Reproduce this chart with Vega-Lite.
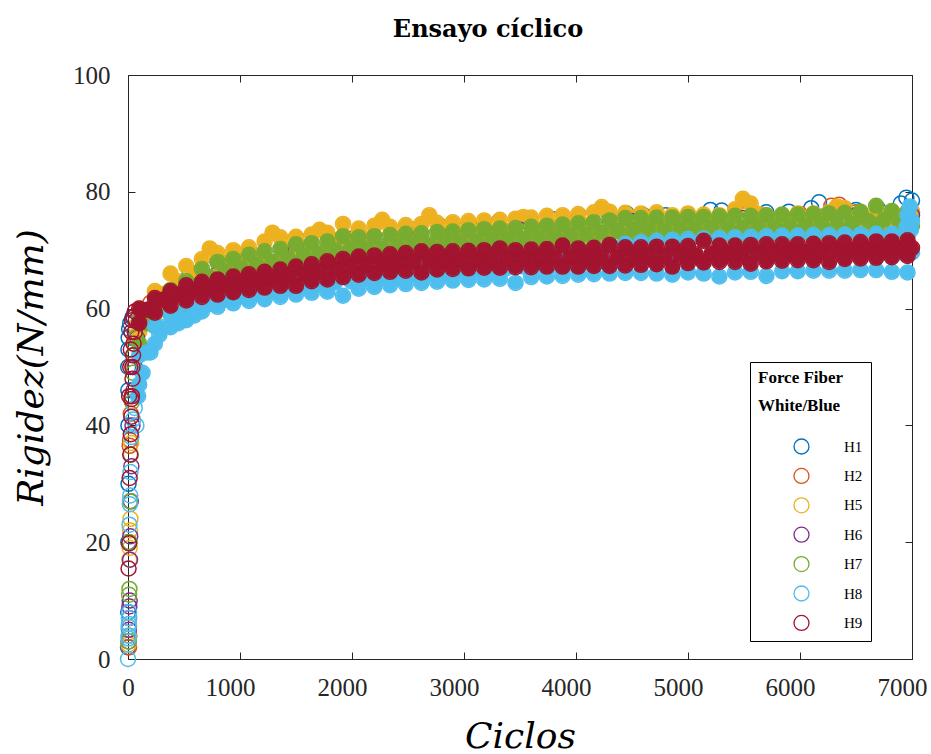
{
"$schema":"https://vega.github.io/schema/vega-lite/v6.json",
"width":784,"height":584,
"autosize":{"type":"none"},
"padding":{"left":128,"top":75,"right":19,"bottom":95},
"background":"white",
"title":{"text":"Ensayo cíclico","font":"DejaVu Serif","fontSize":24,"fontWeight":"bold","color":"#000","anchor":"middle","dx":-32,"offset":2,"baseline":"alphabetic"},
"datasets":{"pts":[
{"s":"H1","x":0,"y":2},{"s":"H1","x":2,"y":8},{"s":"H1","x":3,"y":20},{"s":"H1","x":5,"y":30},{"s":"H1","x":4,"y":40},{"s":"H1","x":3,"y":46},{"s":"H1","x":2,"y":50},{"s":"H1","x":4,"y":53},{"s":"H1","x":6,"y":55},{"s":"H1","x":10,"y":56.5},{"s":"H1","x":20,"y":57.5},{"s":"H1","x":40,"y":58.5},
{"s":"H1","x":300,"y":62},{"s":"H1","x":550,"y":66},{"s":"H1","x":800,"y":68},{"s":"H1","x":1050,"y":69.5},{"s":"H1","x":1300,"y":70.5},{"s":"H1","x":1550,"y":71.5},{"s":"H1","x":1800,"y":72},{"s":"H1","x":2050,"y":72.5},{"s":"H1","x":2300,"y":73},{"s":"H1","x":2550,"y":73.5},{"s":"H1","x":2800,"y":74},{"s":"H1","x":3050,"y":74.3},{"s":"H1","x":3300,"y":74.7},{"s":"H1","x":3550,"y":75},{"s":"H1","x":3800,"y":75.3},{"s":"H1","x":4050,"y":75.6},{"s":"H1","x":4300,"y":75.8},{"s":"H1","x":4450,"y":76.3},{"s":"H1","x":4600,"y":76},{"s":"H1","x":4800,"y":76},{"s":"H1","x":5000,"y":76.1},{"s":"H1","x":5200,"y":76.9},{"s":"H1","x":5300,"y":76.8},{"s":"H1","x":5500,"y":76.3},{"s":"H1","x":5700,"y":76.5},{"s":"H1","x":5900,"y":76.6},{"s":"H1","x":6100,"y":77.2},{"s":"H1","x":6170,"y":78.2},{"s":"H1","x":6300,"y":76.8},{"s":"H1","x":6500,"y":76.9},{"s":"H1","x":6700,"y":77},{"s":"H1","x":6900,"y":78},{"s":"H1","x":6950,"y":79},{"s":"H1","x":7000,"y":78.5},
{"s":"H2","x":10,"y":2},{"s":"H2","x":12,"y":4},{"s":"H2","x":15,"y":36.5},{"s":"H2","x":18,"y":37.5},{"s":"H2","x":25,"y":42},{"s":"H2","x":40,"y":50},{"s":"H2","x":60,"y":55},
{"s":"H2","x":200,"y":61},{"s":"H2","x":600,"y":66},{"s":"H2","x":1000,"y":69},{"s":"H2","x":1500,"y":71},{"s":"H2","x":2000,"y":72},{"s":"H2","x":2500,"y":73},{"s":"H2","x":3000,"y":73.5},{"s":"H2","x":3500,"y":74},{"s":"H2","x":4000,"y":75},{"s":"H2","x":4500,"y":75.5},{"s":"H2","x":5000,"y":75.8},{"s":"H2","x":5500,"y":76},{"s":"H2","x":6000,"y":76.2},{"s":"H2","x":6280,"y":77.6},{"s":"H2","x":6350,"y":77.8},{"s":"H2","x":6500,"y":76.5},{"s":"H2","x":7000,"y":76.5},
{"s":"H5","x":5,"y":2.5},{"s":"H5","x":8,"y":4},{"s":"H5","x":10,"y":5.5},{"s":"H5","x":12,"y":17},{"s":"H5","x":15,"y":19},{"s":"H5","x":18,"y":22},{"s":"H5","x":22,"y":24},{"s":"H5","x":28,"y":37},{"s":"H5","x":35,"y":45},{"s":"H5","x":45,"y":50},{"s":"H5","x":55,"y":54},{"s":"H5","x":70,"y":57},
{"s":"H5","x":100,"y":60},{"s":"H5","x":240,"y":63},{"s":"H5","x":380,"y":66},{"s":"H5","x":520,"y":67.3},{"s":"H5","x":660,"y":68.5},{"s":"H5","x":800,"y":69.5},{"s":"H5","x":940,"y":70},{"s":"H5","x":1080,"y":70.5},{"s":"H5","x":1220,"y":71.5},{"s":"H5","x":1360,"y":72.2},{"s":"H5","x":1500,"y":72.3},{"s":"H5","x":1640,"y":72.7},{"s":"H5","x":1780,"y":73},{"s":"H5","x":1920,"y":74.5},{"s":"H5","x":2060,"y":73.7},{"s":"H5","x":2200,"y":74.2},{"s":"H5","x":2340,"y":74},{"s":"H5","x":2480,"y":74.3},{"s":"H5","x":2620,"y":74.5},{"s":"H5","x":2760,"y":74.7},{"s":"H5","x":2900,"y":74.8},{"s":"H5","x":3040,"y":75},{"s":"H5","x":3180,"y":75.1},{"s":"H5","x":3320,"y":75.2},{"s":"H5","x":3460,"y":75.4},{"s":"H5","x":3600,"y":75.6},{"s":"H5","x":3740,"y":75.9},{"s":"H5","x":3880,"y":76},{"s":"H5","x":4020,"y":76.2},{"s":"H5","x":4160,"y":76.5},{"s":"H5","x":4300,"y":76.6},{"s":"H5","x":4440,"y":76.4},{"s":"H5","x":4580,"y":76.3},{"s":"H5","x":4720,"y":76.5},{"s":"H5","x":4860,"y":76},{"s":"H5","x":5000,"y":76.3},{"s":"H5","x":5140,"y":76.1},{"s":"H5","x":5280,"y":76},{"s":"H5","x":5420,"y":77},{"s":"H5","x":5560,"y":78},{"s":"H5","x":5700,"y":76},{"s":"H5","x":5840,"y":76},{"s":"H5","x":5980,"y":76.3},{"s":"H5","x":6120,"y":76.3},{"s":"H5","x":6260,"y":76.5},{"s":"H5","x":6400,"y":77.2},{"s":"H5","x":6540,"y":76.5},{"s":"H5","x":6680,"y":76.5},{"s":"H5","x":6820,"y":76.6},{"s":"H5","x":6960,"y":76.5},
{"s":"H5","x":170,"y":59.5},{"s":"H5","x":310,"y":62.5},{"s":"H5","x":450,"y":64.7},{"s":"H5","x":590,"y":66},{"s":"H5","x":730,"y":70.3},{"s":"H5","x":870,"y":67.8},{"s":"H5","x":1010,"y":68.2},{"s":"H5","x":1150,"y":69},{"s":"H5","x":1290,"y":73},{"s":"H5","x":1430,"y":70.2},{"s":"H5","x":1570,"y":70.5},{"s":"H5","x":1710,"y":73.5},{"s":"H5","x":1850,"y":71.2},{"s":"H5","x":1990,"y":71.8},{"s":"H5","x":2130,"y":72},{"s":"H5","x":2270,"y":75.2},{"s":"H5","x":2410,"y":72.2},{"s":"H5","x":2550,"y":72.4},{"s":"H5","x":2690,"y":76},{"s":"H5","x":2830,"y":72.8},{"s":"H5","x":2970,"y":72.9},{"s":"H5","x":3110,"y":73.1},{"s":"H5","x":3250,"y":73.2},{"s":"H5","x":3390,"y":73.3},{"s":"H5","x":3530,"y":75.7},{"s":"H5","x":3670,"y":73.7},{"s":"H5","x":3810,"y":74},{"s":"H5","x":3950,"y":74.1},{"s":"H5","x":4090,"y":74.3},{"s":"H5","x":4230,"y":77.4},{"s":"H5","x":4370,"y":74.5},{"s":"H5","x":4510,"y":74.3},{"s":"H5","x":4650,"y":74.4},{"s":"H5","x":4790,"y":74.2},{"s":"H5","x":4930,"y":74.1},{"s":"H5","x":5070,"y":74.2},{"s":"H5","x":5210,"y":74},{"s":"H5","x":5350,"y":74.5},{"s":"H5","x":5490,"y":78.8},{"s":"H5","x":5630,"y":76.2},{"s":"H5","x":5770,"y":74},{"s":"H5","x":5910,"y":74.1},{"s":"H5","x":6050,"y":74.3},{"s":"H5","x":6190,"y":74.4},{"s":"H5","x":6330,"y":77.5},{"s":"H5","x":6470,"y":74.8},{"s":"H5","x":6610,"y":74.5},{"s":"H5","x":6750,"y":74.6},{"s":"H5","x":6890,"y":74.7},{"s":"H5","x":7000,"y":76.6},
{"s":"H5","x":100,"y":56},{"s":"H5","x":240,"y":59},{"s":"H5","x":380,"y":62},{"s":"H5","x":520,"y":63.3},{"s":"H5","x":660,"y":64.5},{"s":"H5","x":800,"y":65.5},{"s":"H5","x":940,"y":66},{"s":"H5","x":1080,"y":66.5},{"s":"H5","x":1220,"y":67.5},{"s":"H5","x":1360,"y":68.2},{"s":"H5","x":1500,"y":68.3},{"s":"H5","x":1640,"y":68.7},{"s":"H5","x":1780,"y":69},{"s":"H5","x":1920,"y":70.5},{"s":"H5","x":2060,"y":69.7},{"s":"H5","x":2200,"y":70.2},{"s":"H5","x":2340,"y":70},{"s":"H5","x":2480,"y":70.3},{"s":"H5","x":2620,"y":70.5},{"s":"H5","x":2760,"y":70.7},{"s":"H5","x":2900,"y":70.8},{"s":"H5","x":3040,"y":71},{"s":"H5","x":3180,"y":71.1},{"s":"H5","x":3320,"y":71.2},{"s":"H5","x":3460,"y":71.4},{"s":"H5","x":3600,"y":71.6},{"s":"H5","x":3740,"y":71.9},{"s":"H5","x":3880,"y":72},{"s":"H5","x":4020,"y":72.2},{"s":"H5","x":4160,"y":72.5},{"s":"H5","x":4300,"y":72.6},{"s":"H5","x":4440,"y":72.4},{"s":"H5","x":4580,"y":72.3},{"s":"H5","x":4720,"y":72.5},{"s":"H5","x":4860,"y":72},{"s":"H5","x":5000,"y":72.3},{"s":"H5","x":5140,"y":72.1},{"s":"H5","x":5280,"y":72},{"s":"H5","x":5420,"y":73},{"s":"H5","x":5560,"y":74},{"s":"H5","x":5700,"y":72},{"s":"H5","x":5840,"y":72},{"s":"H5","x":5980,"y":72.3},{"s":"H5","x":6120,"y":72.3},{"s":"H5","x":6260,"y":72.5},{"s":"H5","x":6400,"y":73.2},{"s":"H5","x":6540,"y":72.5},{"s":"H5","x":6680,"y":72.5},{"s":"H5","x":6820,"y":72.6},{"s":"H5","x":6960,"y":72.5},
{"s":"H6","x":5,"y":3},{"s":"H6","x":8,"y":5},{"s":"H6","x":10,"y":7},{"s":"H6","x":12,"y":9},{"s":"H6","x":15,"y":10},{"s":"H6","x":18,"y":17},{"s":"H6","x":20,"y":21},{"s":"H6","x":25,"y":27},{"s":"H6","x":30,"y":33},{"s":"H6","x":40,"y":40},{"s":"H6","x":50,"y":46},{"s":"H6","x":60,"y":50},{"s":"H6","x":80,"y":55},
{"s":"H6","x":300,"y":61},{"s":"H6","x":800,"y":66},{"s":"H6","x":1500,"y":70},{"s":"H6","x":2500,"y":72},{"s":"H6","x":3500,"y":73.5},{"s":"H6","x":4500,"y":75},{"s":"H6","x":5500,"y":75.5},{"s":"H6","x":6500,"y":76},{"s":"H6","x":7000,"y":76},
{"s":"H7","x":6,"y":3},{"s":"H7","x":10,"y":11},{"s":"H7","x":13,"y":12},{"s":"H7","x":15,"y":20},{"s":"H7","x":18,"y":27},{"s":"H7","x":25,"y":35},{"s":"H7","x":35,"y":44},{"s":"H7","x":45,"y":49},{"s":"H7","x":55,"y":52},{"s":"H7","x":70,"y":55},
{"s":"H7","x":100,"y":58},{"s":"H7","x":240,"y":61},{"s":"H7","x":380,"y":63.2},{"s":"H7","x":520,"y":64.7},{"s":"H7","x":660,"y":66.8},{"s":"H7","x":800,"y":68},{"s":"H7","x":940,"y":68.5},{"s":"H7","x":1080,"y":69.2},{"s":"H7","x":1220,"y":69.8},{"s":"H7","x":1360,"y":70.2},{"s":"H7","x":1500,"y":71},{"s":"H7","x":1640,"y":71.2},{"s":"H7","x":1780,"y":71.5},{"s":"H7","x":1920,"y":72.4},{"s":"H7","x":2060,"y":72.2},{"s":"H7","x":2200,"y":72.4},{"s":"H7","x":2340,"y":72.6},{"s":"H7","x":2480,"y":72.8},{"s":"H7","x":2620,"y":72.9},{"s":"H7","x":2760,"y":73.1},{"s":"H7","x":2900,"y":73.2},{"s":"H7","x":3040,"y":73.4},{"s":"H7","x":3180,"y":73.6},{"s":"H7","x":3320,"y":73.7},{"s":"H7","x":3460,"y":73.8},{"s":"H7","x":3600,"y":74},{"s":"H7","x":3740,"y":74.2},{"s":"H7","x":3880,"y":74.4},{"s":"H7","x":4020,"y":74.6},{"s":"H7","x":4160,"y":74.8},{"s":"H7","x":4300,"y":75.1},{"s":"H7","x":4440,"y":75.5},{"s":"H7","x":4580,"y":75.5},{"s":"H7","x":4720,"y":75.6},{"s":"H7","x":4860,"y":75.6},{"s":"H7","x":5000,"y":75.7},{"s":"H7","x":5140,"y":75.7},{"s":"H7","x":5280,"y":75.8},{"s":"H7","x":5420,"y":75.9},{"s":"H7","x":5560,"y":75.9},{"s":"H7","x":5700,"y":76},{"s":"H7","x":5840,"y":76.1},{"s":"H7","x":5980,"y":76.1},{"s":"H7","x":6120,"y":76.2},{"s":"H7","x":6260,"y":76.3},{"s":"H7","x":6400,"y":76.4},{"s":"H7","x":6540,"y":76.6},{"s":"H7","x":6680,"y":77.6},{"s":"H7","x":6820,"y":76.7},{"s":"H7","x":6960,"y":76.6},
{"s":"H7","x":170,"y":57.5},{"s":"H7","x":310,"y":60.1},{"s":"H7","x":450,"y":62},{"s":"H7","x":590,"y":63.8},{"s":"H7","x":730,"y":65.4},{"s":"H7","x":870,"y":66.3},{"s":"H7","x":1010,"y":66.9},{"s":"H7","x":1150,"y":67.5},{"s":"H7","x":1290,"y":68},{"s":"H7","x":1430,"y":68.6},{"s":"H7","x":1570,"y":69.1},{"s":"H7","x":1710,"y":69.4},{"s":"H7","x":1850,"y":70},{"s":"H7","x":1990,"y":70.3},{"s":"H7","x":2130,"y":70.3},{"s":"H7","x":2270,"y":70.5},{"s":"H7","x":2410,"y":70.7},{"s":"H7","x":2550,"y":70.9},{"s":"H7","x":2690,"y":71},{"s":"H7","x":2830,"y":71.2},{"s":"H7","x":2970,"y":71.3},{"s":"H7","x":3110,"y":71.5},{"s":"H7","x":3250,"y":71.7},{"s":"H7","x":3390,"y":71.8},{"s":"H7","x":3530,"y":71.9},{"s":"H7","x":3670,"y":72.1},{"s":"H7","x":3810,"y":72.3},{"s":"H7","x":3950,"y":72.5},{"s":"H7","x":4090,"y":72.7},{"s":"H7","x":4230,"y":73},{"s":"H7","x":4370,"y":73.3},{"s":"H7","x":4510,"y":73.5},{"s":"H7","x":4650,"y":73.6},{"s":"H7","x":4790,"y":73.6},{"s":"H7","x":4930,"y":73.7},{"s":"H7","x":5070,"y":73.7},{"s":"H7","x":5210,"y":73.8},{"s":"H7","x":5350,"y":73.9},{"s":"H7","x":5490,"y":73.9},{"s":"H7","x":5630,"y":74},{"s":"H7","x":5770,"y":74.1},{"s":"H7","x":5910,"y":74.1},{"s":"H7","x":6050,"y":74.2},{"s":"H7","x":6190,"y":74.3},{"s":"H7","x":6330,"y":74.4},{"s":"H7","x":6470,"y":74.5},{"s":"H7","x":6610,"y":75},{"s":"H7","x":6750,"y":75.2},{"s":"H7","x":6890,"y":74.7},{"s":"H7","x":7000,"y":74.2},
{"s":"H7","x":100,"y":54},{"s":"H7","x":240,"y":57},{"s":"H7","x":380,"y":59.2},{"s":"H7","x":520,"y":60.7},{"s":"H7","x":660,"y":62.8},{"s":"H7","x":800,"y":64},{"s":"H7","x":940,"y":64.5},{"s":"H7","x":1080,"y":65.2},{"s":"H7","x":1220,"y":65.8},{"s":"H7","x":1360,"y":66.2},{"s":"H7","x":1500,"y":67},{"s":"H7","x":1640,"y":67.2},{"s":"H7","x":1780,"y":67.5},{"s":"H7","x":1920,"y":68.4},{"s":"H7","x":2060,"y":68.2},{"s":"H7","x":2200,"y":68.4},{"s":"H7","x":2340,"y":68.6},{"s":"H7","x":2480,"y":68.8},{"s":"H7","x":2620,"y":68.9},{"s":"H7","x":2760,"y":69.1},{"s":"H7","x":2900,"y":69.2},{"s":"H7","x":3040,"y":69.4},{"s":"H7","x":3180,"y":69.6},{"s":"H7","x":3320,"y":69.7},{"s":"H7","x":3460,"y":69.8},{"s":"H7","x":3600,"y":70},{"s":"H7","x":3740,"y":70.2},{"s":"H7","x":3880,"y":70.4},{"s":"H7","x":4020,"y":70.6},{"s":"H7","x":4160,"y":70.8},{"s":"H7","x":4300,"y":71.1},{"s":"H7","x":4440,"y":71.5},{"s":"H7","x":4580,"y":71.5},{"s":"H7","x":4720,"y":71.6},{"s":"H7","x":4860,"y":71.6},{"s":"H7","x":5000,"y":71.7},{"s":"H7","x":5140,"y":71.7},{"s":"H7","x":5280,"y":71.8},{"s":"H7","x":5420,"y":71.9},{"s":"H7","x":5560,"y":71.9},{"s":"H7","x":5700,"y":72},{"s":"H7","x":5840,"y":72.1},{"s":"H7","x":5980,"y":72.1},{"s":"H7","x":6120,"y":72.2},{"s":"H7","x":6260,"y":72.3},{"s":"H7","x":6400,"y":72.4},{"s":"H7","x":6540,"y":72.6},{"s":"H7","x":6680,"y":73.6},{"s":"H7","x":6820,"y":72.7},{"s":"H7","x":6960,"y":72.6},
{"s":"H8","x":0,"y":0},{"s":"H8","x":5,"y":3.5},{"s":"H8","x":4,"y":4},{"s":"H8","x":6,"y":5.5},{"s":"H8","x":8,"y":6},{"s":"H8","x":8,"y":7},{"s":"H8","x":10,"y":8},{"s":"H8","x":13,"y":23},{"s":"H8","x":16,"y":26.5},{"s":"H8","x":20,"y":28},{"s":"H8","x":22,"y":32},{"s":"H8","x":30,"y":38},{"s":"H8","x":45,"y":41},{"s":"H8","x":60,"y":43},{"s":"H8","x":75,"y":40},{"s":"H8","x":90,"y":45},
{"s":"H8","x":130,"y":49},{"s":"H8","x":200,"y":52.5},{"s":"H8","x":280,"y":55.5},{"s":"H8","x":450,"y":57.5},{"s":"H8","x":590,"y":58.8},
{"s":"H8","x":100,"y":52},{"s":"H8","x":240,"y":57},{"s":"H8","x":380,"y":59},{"s":"H8","x":520,"y":61},{"s":"H8","x":660,"y":62},{"s":"H8","x":800,"y":62.8},{"s":"H8","x":940,"y":63.5},{"s":"H8","x":1080,"y":64.1},{"s":"H8","x":1220,"y":64.6},{"s":"H8","x":1360,"y":65},{"s":"H8","x":1500,"y":65.3},{"s":"H8","x":1640,"y":65.7},{"s":"H8","x":1780,"y":66},{"s":"H8","x":1920,"y":66.4},{"s":"H8","x":2060,"y":66.8},{"s":"H8","x":2200,"y":67.1},{"s":"H8","x":2340,"y":67.3},{"s":"H8","x":2480,"y":67.5},{"s":"H8","x":2620,"y":67.7},{"s":"H8","x":2760,"y":67.9},{"s":"H8","x":2900,"y":68.1},{"s":"H8","x":3040,"y":68.3},{"s":"H8","x":3180,"y":68.5},{"s":"H8","x":3320,"y":68.7},{"s":"H8","x":3460,"y":68.9},{"s":"H8","x":3600,"y":69.1},{"s":"H8","x":3740,"y":69.3},{"s":"H8","x":3880,"y":69.5},{"s":"H8","x":4020,"y":69.8},{"s":"H8","x":4160,"y":70.2},{"s":"H8","x":4300,"y":70.8},{"s":"H8","x":4440,"y":71.1},{"s":"H8","x":4580,"y":71.4},{"s":"H8","x":4720,"y":71.6},{"s":"H8","x":4860,"y":71.8},{"s":"H8","x":5000,"y":71.9},{"s":"H8","x":5140,"y":72},{"s":"H8","x":5280,"y":72.1},{"s":"H8","x":5420,"y":72.2},{"s":"H8","x":5560,"y":72.3},{"s":"H8","x":5700,"y":72.4},{"s":"H8","x":5840,"y":72.5},{"s":"H8","x":5980,"y":72.5},{"s":"H8","x":6120,"y":72.6},{"s":"H8","x":6260,"y":72.6},{"s":"H8","x":6400,"y":72.7},{"s":"H8","x":6540,"y":72.7},{"s":"H8","x":6680,"y":72.8},{"s":"H8","x":6820,"y":72.8},{"s":"H8","x":6960,"y":72.8},
{"s":"H8","x":170,"y":52.5},{"s":"H8","x":310,"y":56.8},{"s":"H8","x":450,"y":58.7},{"s":"H8","x":590,"y":59.8},{"s":"H8","x":730,"y":60.8},{"s":"H8","x":870,"y":61.5},{"s":"H8","x":1010,"y":62.1},{"s":"H8","x":1150,"y":62.6},{"s":"H8","x":1290,"y":63.1},{"s":"H8","x":1430,"y":63.5},{"s":"H8","x":1570,"y":63.9},{"s":"H8","x":1710,"y":64.2},{"s":"H8","x":1850,"y":64.5},{"s":"H8","x":1990,"y":64.7},{"s":"H8","x":2130,"y":65.2},{"s":"H8","x":2270,"y":65.5},{"s":"H8","x":2410,"y":65.7},{"s":"H8","x":2550,"y":65.9},{"s":"H8","x":2690,"y":66.1},{"s":"H8","x":2830,"y":66.3},{"s":"H8","x":2970,"y":66.5},{"s":"H8","x":3110,"y":66.7},{"s":"H8","x":3250,"y":66.8},{"s":"H8","x":3390,"y":67},{"s":"H8","x":3530,"y":67.2},{"s":"H8","x":3670,"y":67.4},{"s":"H8","x":3810,"y":67.5},{"s":"H8","x":3950,"y":67.7},{"s":"H8","x":4090,"y":67.9},{"s":"H8","x":4230,"y":68.1},{"s":"H8","x":4370,"y":68.3},{"s":"H8","x":4510,"y":68.5},{"s":"H8","x":4650,"y":68.6},{"s":"H8","x":4790,"y":68.7},{"s":"H8","x":4930,"y":68.8},{"s":"H8","x":5070,"y":68.9},{"s":"H8","x":5210,"y":69},{"s":"H8","x":5350,"y":69.1},{"s":"H8","x":5490,"y":69.2},{"s":"H8","x":5630,"y":69.3},{"s":"H8","x":5770,"y":69.3},{"s":"H8","x":5910,"y":69.4},{"s":"H8","x":6050,"y":69.4},{"s":"H8","x":6190,"y":69.5},{"s":"H8","x":6330,"y":69.5},{"s":"H8","x":6470,"y":69.6},{"s":"H8","x":6610,"y":69.6},{"s":"H8","x":6750,"y":69.6},{"s":"H8","x":6890,"y":69.6},{"s":"H8","x":7000,"y":69.6},
{"s":"H8","x":100,"y":47},{"s":"H8","x":240,"y":54},{"s":"H8","x":380,"y":56.8},{"s":"H8","x":520,"y":58},{"s":"H8","x":660,"y":59.5},{"s":"H8","x":800,"y":60.3},{"s":"H8","x":940,"y":60.9},{"s":"H8","x":1080,"y":61.3},{"s":"H8","x":1220,"y":61.6},{"s":"H8","x":1360,"y":62},{"s":"H8","x":1500,"y":62.4},{"s":"H8","x":1640,"y":62.7},{"s":"H8","x":1780,"y":62.9},{"s":"H8","x":1920,"y":62.2},{"s":"H8","x":2060,"y":63.4},{"s":"H8","x":2200,"y":63.7},{"s":"H8","x":2340,"y":64},{"s":"H8","x":2480,"y":64.2},{"s":"H8","x":2620,"y":64.4},{"s":"H8","x":2760,"y":64.6},{"s":"H8","x":2900,"y":64.8},{"s":"H8","x":3040,"y":64.9},{"s":"H8","x":3180,"y":65},{"s":"H8","x":3320,"y":65.1},{"s":"H8","x":3460,"y":64.4},{"s":"H8","x":3600,"y":65.4},{"s":"H8","x":3740,"y":65.5},{"s":"H8","x":3880,"y":65.6},{"s":"H8","x":4020,"y":65.8},{"s":"H8","x":4160,"y":65.9},{"s":"H8","x":4300,"y":66},{"s":"H8","x":4440,"y":66.1},{"s":"H8","x":4580,"y":66.1},{"s":"H8","x":4720,"y":66},{"s":"H8","x":4860,"y":65.8},{"s":"H8","x":5000,"y":66.2},{"s":"H8","x":5140,"y":66},{"s":"H8","x":5280,"y":65.5},{"s":"H8","x":5420,"y":66.2},{"s":"H8","x":5560,"y":66.3},{"s":"H8","x":5700,"y":65.6},{"s":"H8","x":5840,"y":66.4},{"s":"H8","x":5980,"y":66.4},{"s":"H8","x":6120,"y":66.5},{"s":"H8","x":6260,"y":66.5},{"s":"H8","x":6400,"y":66.5},{"s":"H8","x":6540,"y":66.6},{"s":"H8","x":6680,"y":66.6},{"s":"H8","x":6820,"y":66.3},{"s":"H8","x":6960,"y":66.2},
{"s":"H8","x":6950,"y":74},{"s":"H8","x":6960,"y":76},{"s":"H8","x":6980,"y":77.5},{"s":"H8","x":6990,"y":73.5},{"s":"H8","x":7000,"y":75},
{"s":"H9","x":5,"y":15.5},{"s":"H9","x":10,"y":19.8},{"s":"H9","x":15,"y":31},{"s":"H9","x":20,"y":35},{"s":"H9","x":25,"y":38.5},{"s":"H9","x":30,"y":41.5},{"s":"H9","x":30,"y":44.5},{"s":"H9","x":35,"y":45},{"s":"H9","x":40,"y":48},{"s":"H9","x":40,"y":50},{"s":"H9","x":10,"y":45},{"s":"H9","x":20,"y":50},{"s":"H9","x":25,"y":53},{"s":"H9","x":45,"y":52},{"s":"H9","x":50,"y":54},{"s":"H9","x":30,"y":56},{"s":"H9","x":35,"y":58},{"s":"H9","x":60,"y":56},{"s":"H9","x":50,"y":58.5},{"s":"H9","x":70,"y":58},{"s":"H9","x":60,"y":59.5},
{"s":"H9","x":100,"y":60},{"s":"H9","x":240,"y":61.8},{"s":"H9","x":380,"y":63},{"s":"H9","x":520,"y":64},{"s":"H9","x":660,"y":64.6},{"s":"H9","x":800,"y":65},{"s":"H9","x":940,"y":65.5},{"s":"H9","x":1080,"y":65.9},{"s":"H9","x":1220,"y":66.3},{"s":"H9","x":1360,"y":66.7},{"s":"H9","x":1500,"y":67.2},{"s":"H9","x":1640,"y":67.6},{"s":"H9","x":1780,"y":68.1},{"s":"H9","x":1920,"y":68.5},{"s":"H9","x":2060,"y":68.9},{"s":"H9","x":2200,"y":69.1},{"s":"H9","x":2340,"y":69.3},{"s":"H9","x":2480,"y":69.5},{"s":"H9","x":2620,"y":69.8},{"s":"H9","x":2760,"y":69.7},{"s":"H9","x":2900,"y":69.8},{"s":"H9","x":3040,"y":69.9},{"s":"H9","x":3180,"y":70},{"s":"H9","x":3320,"y":70.3},{"s":"H9","x":3460,"y":70},{"s":"H9","x":3600,"y":70.1},{"s":"H9","x":3740,"y":70.2},{"s":"H9","x":3880,"y":70.8},{"s":"H9","x":4020,"y":70.3},{"s":"H9","x":4160,"y":70.4},{"s":"H9","x":4300,"y":70.9},{"s":"H9","x":4440,"y":70.5},{"s":"H9","x":4580,"y":70.5},{"s":"H9","x":4720,"y":70.6},{"s":"H9","x":4860,"y":70.6},{"s":"H9","x":5000,"y":70.7},{"s":"H9","x":5140,"y":71.6},{"s":"H9","x":5280,"y":70.8},{"s":"H9","x":5420,"y":70.8},{"s":"H9","x":5560,"y":70.9},{"s":"H9","x":5700,"y":71},{"s":"H9","x":5840,"y":71},{"s":"H9","x":5980,"y":71},{"s":"H9","x":6120,"y":71.1},{"s":"H9","x":6260,"y":71.2},{"s":"H9","x":6400,"y":71.3},{"s":"H9","x":6540,"y":71.4},{"s":"H9","x":6680,"y":71.5},{"s":"H9","x":6820,"y":71.5},{"s":"H9","x":6960,"y":71.7},
{"s":"H9","x":170,"y":59.8},{"s":"H9","x":310,"y":61.5},{"s":"H9","x":450,"y":62.4},{"s":"H9","x":590,"y":63.1},{"s":"H9","x":730,"y":63.5},{"s":"H9","x":870,"y":64},{"s":"H9","x":1010,"y":64.3},{"s":"H9","x":1150,"y":64.8},{"s":"H9","x":1290,"y":65.1},{"s":"H9","x":1430,"y":65.5},{"s":"H9","x":1570,"y":65.9},{"s":"H9","x":1710,"y":66.4},{"s":"H9","x":1850,"y":66.8},{"s":"H9","x":1990,"y":67.2},{"s":"H9","x":2130,"y":67.5},{"s":"H9","x":2270,"y":67.7},{"s":"H9","x":2410,"y":67.9},{"s":"H9","x":2550,"y":68.1},{"s":"H9","x":2690,"y":68.2},{"s":"H9","x":2830,"y":68.3},{"s":"H9","x":2970,"y":68.3},{"s":"H9","x":3110,"y":68.4},{"s":"H9","x":3250,"y":68.5},{"s":"H9","x":3390,"y":68.6},{"s":"H9","x":3530,"y":68.6},{"s":"H9","x":3670,"y":68.7},{"s":"H9","x":3810,"y":68.7},{"s":"H9","x":3950,"y":68.8},{"s":"H9","x":4090,"y":68.8},{"s":"H9","x":4230,"y":68.9},{"s":"H9","x":4370,"y":68.9},{"s":"H9","x":4510,"y":69},{"s":"H9","x":4650,"y":69.1},{"s":"H9","x":4790,"y":69.1},{"s":"H9","x":4930,"y":69.2},{"s":"H9","x":5070,"y":69.3},{"s":"H9","x":5210,"y":69.4},{"s":"H9","x":5350,"y":69.4},{"s":"H9","x":5490,"y":69.5},{"s":"H9","x":5630,"y":69.6},{"s":"H9","x":5770,"y":69.6},{"s":"H9","x":5910,"y":69.7},{"s":"H9","x":6050,"y":69.7},{"s":"H9","x":6190,"y":69.8},{"s":"H9","x":6330,"y":69.9},{"s":"H9","x":6470,"y":70},{"s":"H9","x":6610,"y":70.1},{"s":"H9","x":6750,"y":70.2},{"s":"H9","x":6890,"y":70.3},{"s":"H9","x":7000,"y":70.4},
{"s":"H9","x":100,"y":57.5},{"s":"H9","x":240,"y":59.3},{"s":"H9","x":380,"y":60.5},{"s":"H9","x":520,"y":61.4},{"s":"H9","x":660,"y":62},{"s":"H9","x":800,"y":62.4},{"s":"H9","x":940,"y":62.8},{"s":"H9","x":1080,"y":63.2},{"s":"H9","x":1220,"y":63.6},{"s":"H9","x":1360,"y":63.9},{"s":"H9","x":1500,"y":63.9},{"s":"H9","x":1640,"y":64.7},{"s":"H9","x":1780,"y":65},{"s":"H9","x":1920,"y":65.4},{"s":"H9","x":2060,"y":65.8},{"s":"H9","x":2200,"y":66.1},{"s":"H9","x":2340,"y":66.3},{"s":"H9","x":2480,"y":66.5},{"s":"H9","x":2620,"y":66.2},{"s":"H9","x":2760,"y":66.7},{"s":"H9","x":2900,"y":66.8},{"s":"H9","x":3040,"y":66.9},{"s":"H9","x":3180,"y":67},{"s":"H9","x":3320,"y":67},{"s":"H9","x":3460,"y":67.1},{"s":"H9","x":3600,"y":67.1},{"s":"H9","x":3740,"y":67.2},{"s":"H9","x":3880,"y":67.2},{"s":"H9","x":4020,"y":67.2},{"s":"H9","x":4160,"y":67.3},{"s":"H9","x":4300,"y":67.3},{"s":"H9","x":4440,"y":67.4},{"s":"H9","x":4580,"y":67.5},{"s":"H9","x":4720,"y":67.6},{"s":"H9","x":4860,"y":67.2},{"s":"H9","x":5000,"y":67.8},{"s":"H9","x":5140,"y":67.9},{"s":"H9","x":5280,"y":68},{"s":"H9","x":5420,"y":68},{"s":"H9","x":5560,"y":67.7},{"s":"H9","x":5700,"y":68.1},{"s":"H9","x":5840,"y":68.2},{"s":"H9","x":5980,"y":68.3},{"s":"H9","x":6120,"y":68.3},{"s":"H9","x":6260,"y":68},{"s":"H9","x":6400,"y":68.5},{"s":"H9","x":6540,"y":68.6},{"s":"H9","x":6680,"y":68.7},{"s":"H9","x":6820,"y":68.8},{"s":"H9","x":6960,"y":69}
]},
"layer":[
{"data":{"name":"pts"},"transform":[{"filter":"datum.s==='H1'"}],
"mark":{"type":"point","shape":"circle","filled":false,"size":225,"strokeWidth":1.5,"opacity":1},
"encoding":{
"x":{"field":"x","type":"quantitative","scale":{"domain":[0,7000],"nice":false,"zero":false},
"axis":{"orient":"bottom","values":[0,1000,2000,3000,4000,5000,6000,7000],"format":"d","labelFont":"Liberation Serif","labelFontSize":25,"labelColor":"#262626","labelPadding":23,"labelOffset":{"condition":{"test":"datum.value == 0","value":0},"value":-10},"labelOverlap":false,"labelFlush":false,"tickSize":-7,"tickColor":"#262626","domainColor":"#262626","grid":false,"title":"Ciclos","titleFont":"DejaVu Serif","titleFontStyle":"italic","titleFontWeight":"normal","titleFontSize":36,"titleColor":"#000","titlePadding":19}},
"y":{"field":"y","type":"quantitative","scale":{"domain":[0,100],"nice":false,"zero":false},
"axis":{"orient":"left","values":[0,20,40,60,80,100],"format":"d","labelFont":"Liberation Serif","labelFontSize":25,"labelColor":"#262626","labelPadding":25,"labelOverlap":false,"labelFlush":false,"tickSize":-7,"tickColor":"#262626","domainColor":"#262626","grid":false,"title":"Rigidez(N/mm)","titleFont":"DejaVu Serif","titleFontStyle":"italic","titleFontWeight":"normal","titleFontSize":36,"titleColor":"#000","titlePadding":22}},
"color":{"field":"s","type":"nominal","scale":{"domain":["H1","H2","H5","H6","H7","H8","H9"],"range":["#0072BD","#D95319","#EDB120","#7E2F8E","#77AC30","#4DBEEE","#A2142F"]},
"legend":{"orient":"none","legendX":622,"legendY":287,"title":["Force Fiber","White/Blue"],"titleFont":"Liberation Serif","titleFontSize":17,"titleFontWeight":"bold","titleColor":"#000","titleLineHeight":28,"titlePadding":23,"labelFont":"Liberation Serif","labelFontSize":15,"labelColor":"#000","labelOffset":34,"symbolOffset":35,"symbolSize":225,"symbolStrokeWidth":1.3,"symbolType":"circle","rowPadding":8.4,"padding":8,"strokeColor":"#000","fillColor":"#fff"}}
}},
{"data":{"name":"pts"},"transform":[{"filter":"datum.s==='H2'"}],
"mark":{"type":"point","shape":"circle","filled":false,"size":225,"strokeWidth":1.5,"opacity":1},
"encoding":{"x":{"field":"x","type":"quantitative","axis":null},"y":{"field":"y","type":"quantitative","axis":null},"color":{"field":"s","type":"nominal"}}},
{"data":{"name":"pts"},"transform":[{"filter":"datum.s==='H5' && datum.x>=90"}],
"mark":{"type":"point","shape":"circle","filled":true,"size":196,"strokeWidth":0,"opacity":1},
"encoding":{"x":{"field":"x","type":"quantitative","axis":null},"y":{"field":"y","type":"quantitative","axis":null},"fill":{"field":"s","type":"nominal","scale":{"domain":["H5","H7","H8","H9"],"range":["#EDB120","#77AC30","#4DBEEE","#A2142F"]},"legend":null}}},
{"data":{"name":"pts"},"transform":[{"filter":"datum.s==='H5'"}],
"mark":{"type":"point","shape":"circle","filled":false,"size":225,"strokeWidth":1.5,"opacity":1},
"encoding":{"x":{"field":"x","type":"quantitative","axis":null},"y":{"field":"y","type":"quantitative","axis":null},"color":{"field":"s","type":"nominal"}}},
{"data":{"name":"pts"},"transform":[{"filter":"datum.s==='H6'"}],
"mark":{"type":"point","shape":"circle","filled":false,"size":225,"strokeWidth":1.5,"opacity":1},
"encoding":{"x":{"field":"x","type":"quantitative","axis":null},"y":{"field":"y","type":"quantitative","axis":null},"color":{"field":"s","type":"nominal"}}},
{"data":{"name":"pts"},"transform":[{"filter":"datum.s==='H7' && datum.x>=90"}],
"mark":{"type":"point","shape":"circle","filled":true,"size":196,"strokeWidth":0,"opacity":1},
"encoding":{"x":{"field":"x","type":"quantitative","axis":null},"y":{"field":"y","type":"quantitative","axis":null},"fill":{"field":"s","type":"nominal","legend":null}}},
{"data":{"name":"pts"},"transform":[{"filter":"datum.s==='H7'"}],
"mark":{"type":"point","shape":"circle","filled":false,"size":225,"strokeWidth":1.5,"opacity":1},
"encoding":{"x":{"field":"x","type":"quantitative","axis":null},"y":{"field":"y","type":"quantitative","axis":null},"color":{"field":"s","type":"nominal"}}},
{"data":{"name":"pts"},"transform":[{"filter":"datum.s==='H8' && datum.x>=90"}],
"mark":{"type":"point","shape":"circle","filled":true,"size":196,"strokeWidth":0,"opacity":1},
"encoding":{"x":{"field":"x","type":"quantitative","axis":null},"y":{"field":"y","type":"quantitative","axis":null},"fill":{"field":"s","type":"nominal","legend":null}}},
{"data":{"name":"pts"},"transform":[{"filter":"datum.s==='H8'"}],
"mark":{"type":"point","shape":"circle","filled":false,"size":225,"strokeWidth":1.5,"opacity":1},
"encoding":{"x":{"field":"x","type":"quantitative","axis":null},"y":{"field":"y","type":"quantitative","axis":null},"color":{"field":"s","type":"nominal"}}},
{"data":{"name":"pts"},"transform":[{"filter":"datum.s==='H9' && datum.x>=90"}],
"mark":{"type":"point","shape":"circle","filled":true,"size":196,"strokeWidth":0,"opacity":1},
"encoding":{"x":{"field":"x","type":"quantitative","axis":null},"y":{"field":"y","type":"quantitative","axis":null},"fill":{"field":"s","type":"nominal","legend":null}}},
{"data":{"name":"pts"},"transform":[{"filter":"datum.s==='H9'"}],
"mark":{"type":"point","shape":"circle","filled":false,"size":225,"strokeWidth":1.5,"opacity":1},
"encoding":{"x":{"field":"x","type":"quantitative","axis":null},"y":{"field":"y","type":"quantitative","axis":null},"color":{"field":"s","type":"nominal"}}},
{"data":{"values":[{"x":0,"y":0}]},
"mark":{"type":"point","opacity":0},
"encoding":{
"x":{"field":"x","type":"quantitative","axis":{"orient":"top","values":[0,1000,2000,3000,4000,5000,6000,7000],"labels":false,"title":null,"tickSize":-7,"tickColor":"#262626","domainColor":"#262626","grid":false}},
"y":{"field":"y","type":"quantitative","axis":{"orient":"right","values":[0,20,40,60,80,100],"labels":false,"title":null,"tickSize":-7,"tickColor":"#262626","domainColor":"#262626","grid":false}}
}}
],
"resolve":{"axis":{"x":"independent","y":"independent"}},
"config":{"view":{"stroke":null}}
}
